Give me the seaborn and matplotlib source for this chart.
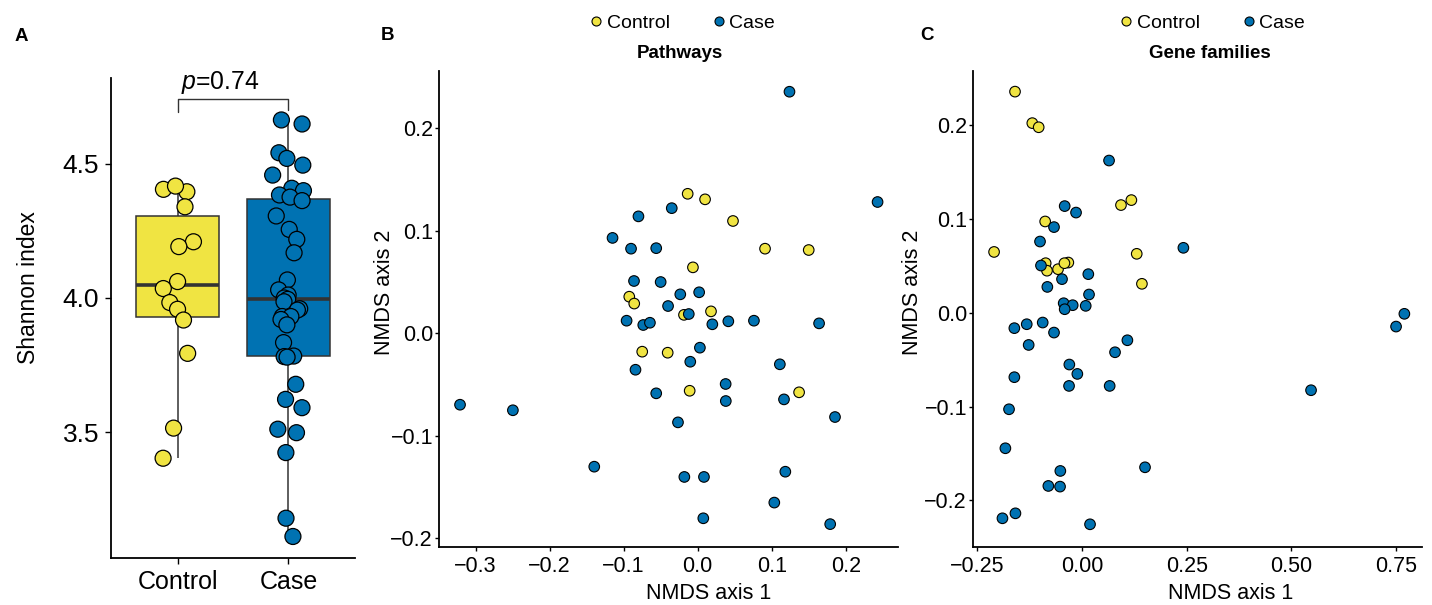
import numpy as np
import pandas as pd
import matplotlib
matplotlib.use("Agg")
import matplotlib.pyplot as plt
import seaborn as sns
from matplotlib.ticker import FuncFormatter

# ---------------- data ----------------
groups = ["Control", "Case"]
colors = {"Control": "#F0E442", "Case": "#0072B2"}

shannon_control = [4.404, 4.395, 4.416, 4.339, 4.209, 4.191, 4.061, 4.035,
                   3.983, 3.958, 3.918, 3.794, 3.516, 3.404]
shannon_case = [4.662, 4.647, 4.540, 4.519, 4.494, 4.457, 4.408, 4.399, 4.383,
                4.375, 4.362, 4.305, 4.255, 4.218, 4.168, 4.067, 4.030, 4.011,
                4.000, 3.995, 3.986, 3.960, 3.955, 3.931, 3.931, 3.920, 3.900,
                3.834, 3.784, 3.782, 3.780, 3.679, 3.623, 3.592, 3.512, 3.499,
                3.425, 3.181, 3.113]
p_label = "0.74"

pw_control_x = [-0.0135, 0.010, 0.0477, 0.091, 0.150, -0.0064, -0.0924, -0.0857,
                0.018, -0.0185, -0.0749, -0.0405, -0.0108, 0.137]
pw_control_y = [0.136, 0.1306, 0.1095, 0.0825, 0.0812, 0.0643, 0.0357, 0.029,
                0.0214, 0.018, -0.0179, -0.0189, -0.056, -0.0575]
pw_case_x = [0.124, 0.243, -0.035, -0.080, -0.115, -0.090, -0.056, -0.086, -0.050,
             -0.0235, 0.002, -0.040, -0.012, -0.096, -0.0735, -0.0645, 0.0198,
             0.0414, 0.076, 0.164, 0.003, -0.010, 0.111, -0.084, 0.0378, -0.056,
             0.038, 0.1166, -0.321, -0.2496, 0.1855, -0.0266, -0.1397, -0.018,
             0.0085, 0.1184, 0.1035, 0.0076, 0.179]
pw_case_y = [0.2355, 0.128, 0.122, 0.114, 0.093, 0.0825, 0.083, 0.051, 0.050,
             0.038, 0.040, 0.0266, 0.0188, 0.0123, 0.0081, 0.0103, 0.0088,
             0.0117, 0.0123, 0.0097, -0.014, -0.0277, -0.0302, -0.0355, -0.0494,
             -0.0585, -0.066, -0.0644, -0.0696, -0.075, -0.0816, -0.0868, -0.130,
             -0.140, -0.140, -0.1349, -0.165, -0.1803, -0.186]

gf_control_x = [-0.160, -0.1187, -0.1035, 0.093, 0.1178, -0.088, -0.210, 0.1306,
                0.143, -0.0868, -0.0836, -0.0573, -0.0327, -0.042]
gf_control_y = [0.236, 0.2024, 0.198, 0.115, 0.1203, 0.0975, 0.065, 0.063,
                0.031, 0.053, 0.045, 0.0466, 0.0537, 0.053]
gf_case_x = [0.0645, -0.0414, -0.0143, -0.0669, -0.1003, 0.242, -0.098, 0.015,
             -0.0478, -0.0828, 0.0167, -0.0438, -0.0223, 0.0088, -0.0414, 0.7696,
             0.7498, -0.1616, -0.132, -0.0939, -0.0669, -0.1274, 0.1083, 0.0788,
             -0.0303, -0.0112, -0.031, 0.066, -0.1616, 0.5468, -0.1743, -0.183,
             0.1504, -0.0518, -0.0804, -0.0525, -0.159, -0.190, 0.0191]
gf_case_y = [0.1625, 0.1139, 0.107, 0.0915, 0.0761, 0.0694, 0.0505, 0.0413, 0.036,
             0.0277, 0.0196, 0.0103, 0.0082, 0.0075, 0.0039, -0.001, -0.0146,
             -0.0163, -0.0121, -0.0103, -0.021, -0.0342, -0.0292, -0.042, -0.0551,
             -0.0651, -0.0779, -0.0779, -0.0686, -0.0825, -0.1028, -0.1444,
             -0.1647, -0.1686, -0.1846, -0.1853, -0.2138, -0.2191, -0.2255]

# ---------------- style ----------------
sns.set_style("ticks")
plt.rcParams["font.family"] = ["Liberation Sans", "DejaVu Sans"]
plt.rcParams["mathtext.fontset"] = "custom"
plt.rcParams["mathtext.rm"] = "Liberation Sans"
plt.rcParams["mathtext.it"] = "Liberation Sans:italic"
for key in ("text.color", "axes.labelcolor", "xtick.color", "ytick.color",
            "axes.edgecolor"):
    plt.rcParams[key] = "black"

W, H = 1432, 605
fig = plt.figure(figsize=(W / 100, H / 100), dpi=100)


def rect(l, t, r, b):
    return [l / W, 1 - b / H, (r - l) / W, (b - t) / H]


axA = fig.add_axes(rect(111, 78, 355, 558))
axB = fig.add_axes(rect(439.3, 71, 898.3, 546.7))
axC = fig.add_axes(rect(973.3, 71, 1421.7, 546.7))

minus_fmt1 = FuncFormatter(lambda v, p: f"{v:.1f}".replace("-", "\u2212"))
minus_fmt2 = FuncFormatter(lambda v, p: f"{v:.2f}".replace("-", "\u2212"))

# ---------------- panel A ----------------
dfA = pd.DataFrame({
    "group": ["Control"] * len(shannon_control) + ["Case"] * len(shannon_case),
    "shannon": shannon_control + shannon_case,
})
sns.boxplot(data=dfA, x="group", y="shannon", hue="group", order=groups,
            hue_order=groups, palette=colors, width=0.75, showfliers=False,
            showcaps=False, saturation=1, linecolor="#333333", linewidth=1.1,
            medianprops=dict(linewidth=2.6, color="#333333"), legend=False, ax=axA)
np.random.seed(7)
sns.stripplot(data=dfA, x="group", y="shannon", hue="group", order=groups,
              hue_order=groups, palette=colors, jitter=0.15, size=11.5,
              edgecolor="black", linewidth=0.9, legend=False, ax=axA, zorder=3)
axA.set_xlim(-0.6, 1.6)
axA.set_ylim(3.033, 4.818)
axA.set_yticks([3.5, 4.0, 4.5])
axA.yaxis.set_major_formatter(minus_fmt1)
axA.set_xlabel("")
axA.set_ylabel("Shannon index", fontsize=16.5, ha="center", va="center")
axA.yaxis.set_label_coords(28.3 / W, 1 - 287.7 / H, transform=fig.transFigure)
axA.tick_params(axis="y", labelsize=19, length=4.5, width=1, pad=4, colors="black")
axA.tick_params(axis="x", labelsize=18, length=4.5, width=1, pad=4, colors="black")
axA.plot([0, 0, 1, 1], [4.693, 4.739, 4.739, 4.70], color="#333333", lw=1.0,
         clip_on=False, zorder=1)
axA.text(0.38, 4.776, r"$p$=" + p_label, ha="center", va="baseline", fontsize=17.8)

# ---------------- panels B, C ----------------
def nmds_panel(ax, cx, cy, kx, ky, title, title_x, xticks, fmt, xlim, ylim,
               leg_x, xlab_x, ylab_x):
    df = pd.DataFrame({
        "group": ["Control"] * len(cx) + ["Case"] * len(kx),
        "x": list(cx) + list(kx),
        "y": list(cy) + list(ky),
    })
    sns.scatterplot(data=df, x="x", y="y", hue="group", hue_order=groups,
                    palette=colors, s=58, edgecolor="black", linewidth=0.8, ax=ax)
    ax.set_xlim(*xlim)
    ax.set_ylim(*ylim)
    ax.set_xticks(xticks)
    ax.set_yticks([-0.2, -0.1, 0.0, 0.1, 0.2])
    ax.xaxis.set_major_formatter(fmt)
    ax.yaxis.set_major_formatter(minus_fmt1)
    ax.tick_params(axis="both", labelsize=15.5, length=3, width=1, colors="black")
    ax.tick_params(axis="y", pad=1.5)
    ax.tick_params(axis="x", pad=3.5)
    ax.set_xlabel("NMDS axis 1", fontsize=15.5, ha="center", va="center")
    ax.xaxis.set_label_coords(xlab_x / W, 1 - 593.3 / H, transform=fig.transFigure)
    ax.set_ylabel("NMDS axis 2", fontsize=15.5, ha="center", va="center")
    ax.yaxis.set_label_coords(ylab_x / W, 1 - 292.5 / H, transform=fig.transFigure)
    ax.set_title(title, fontweight="bold", fontsize=13.5, va="center",
                 x=title_x, y=0, transform=None)
    ax.title.set_transform(fig.transFigure)
    ax.title.set_position((title_x / W, 1 - 53 / H))
    sns.move_legend(ax, loc="center", bbox_to_anchor=(leg_x / W, 1 - 23.3 / H),
                    bbox_transform=fig.transFigure, ncol=2, title=None,
                    frameon=False, fontsize=14, handletextpad=0.05,
                    columnspacing=2.0, markerscale=0.85, handlelength=1.0,
                    borderpad=0, borderaxespad=0)


nmds_panel(axB, pw_control_x, pw_control_y, pw_case_x, pw_case_y, "Pathways",
           679.5, [-0.3, -0.2, -0.1, 0.0, 0.1, 0.2], minus_fmt1,
           (-0.349, 0.271), (-0.208, 0.2557), 681, 709, 385)
nmds_panel(axC, gf_control_x, gf_control_y, gf_case_x, gf_case_y, "Gene families",
           1210.3, [-0.25, 0.0, 0.25, 0.5, 0.75], minus_fmt2,
           (-0.2596, 0.811), (-0.2494, 0.258), 1211, 1231, 913)

for ax in (axA, axB, axC):
    sns.despine(ax=ax)
    for s in ("left", "bottom"):
        ax.spines[s].set_color("black")
        ax.spines[s].set_linewidth(1.3)

for lab, x, y in (("A", 21.7, 36.7), ("B", 387, 35), ("C", 927, 35)):
    fig.text(x / W, 1 - y / H, lab, fontweight="bold", fontsize=13.5,
             ha="center", va="center", color="black")

fig.savefig("out.png", dpi=100)
